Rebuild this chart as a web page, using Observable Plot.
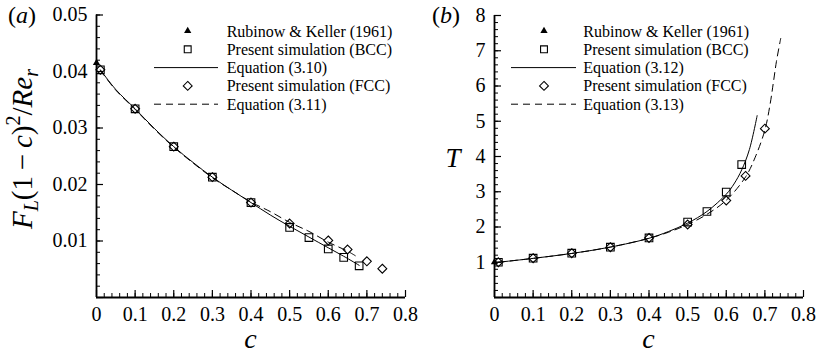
<!DOCTYPE html>
<html><head><meta charset="utf-8">
<script src="https://cdn.jsdelivr.net/npm/d3@7"></script>
<script src="https://cdn.jsdelivr.net/npm/@observablehq/plot@0.6"></script>
<style>
body{margin:0;background:#fff;}
#wrap{display:flex;width:816px;height:355px;position:relative;}
#wrap svg{overflow:visible;}
#wrap svg text{font-family:'Liberation Serif','Times New Roman',Times,serif !important;}
</style></head><body><div id="wrap"></div>
<script>
// ---------- Panel (a) data ----------
const cRK_a = [0.0];
const vRK_a = [0.0415];
const cBCC_a = [0.01, 0.1, 0.2, 0.3, 0.4, 0.5, 0.55, 0.6, 0.64, 0.68];
const vBCC_a = [0.0403, 0.0334, 0.0267, 0.0213, 0.0168, 0.0124, 0.0106, 0.0086, 0.0071, 0.0056];
const cFCC_a = [0.01, 0.1, 0.2, 0.3, 0.4, 0.5, 0.6, 0.65, 0.7, 0.74];
const vFCC_a = [0.0403, 0.0334, 0.0267, 0.0213, 0.0168, 0.0131, 0.0101, 0.0085, 0.0064, 0.0051];
const cEq310 = [0.01, 0.05, 0.1, 0.15, 0.2, 0.25, 0.3, 0.35, 0.4, 0.45, 0.5, 0.55, 0.6, 0.64, 0.68];
const vEq310 = [0.0403, 0.0368, 0.0334, 0.0299, 0.0267, 0.0239, 0.0213, 0.0190, 0.0168, 0.0146, 0.0126, 0.0107, 0.0088, 0.0073, 0.0057];
const cEq311 = [0.01, 0.05, 0.1, 0.15, 0.2, 0.25, 0.3, 0.35, 0.4, 0.45, 0.5, 0.55, 0.6, 0.65, 0.67];
const vEq311 = [0.0402, 0.0367, 0.0333, 0.0298, 0.0266, 0.0238, 0.0212, 0.0190, 0.0169, 0.0152, 0.0133, 0.0117, 0.0098, 0.0082, 0.0074];

// ---------- Panel (b) data ----------
const cRK_b = [0.0];
const vRK_b = [1.0];
const cBCC_b = [0.01, 0.1, 0.2, 0.3, 0.4, 0.5, 0.55, 0.6, 0.64];
const vBCC_b = [1.0, 1.115, 1.257, 1.427, 1.69, 2.14, 2.44, 2.99, 3.77];
const cFCC_b = [0.01, 0.1, 0.2, 0.3, 0.4, 0.5, 0.6, 0.65, 0.7];
const vFCC_b = [1.0, 1.115, 1.257, 1.427, 1.69, 2.07, 2.75, 3.45, 4.79];
const cEq312 = [0.01, 0.1, 0.2, 0.3, 0.4, 0.45, 0.5, 0.55, 0.6, 0.62, 0.64, 0.66, 0.68];
const vEq312 = [1.0, 1.11, 1.25, 1.43, 1.68, 1.87, 2.11, 2.44, 2.93, 3.22, 3.62, 4.2, 5.16];
const cEq313 = [0.01, 0.1, 0.2, 0.3, 0.4, 0.45, 0.5, 0.55, 0.6, 0.65, 0.675, 0.7, 0.713, 0.722, 0.73, 0.741];
const vEq313 = [1.0, 1.11, 1.25, 1.43, 1.68, 1.85, 2.07, 2.36, 2.76, 3.42, 3.98, 4.75, 5.45, 6.1, 6.7, 7.35];

// ---------- ticks & labels ----------
const xMajor = [0, 0.1, 0.2, 0.3, 0.4, 0.5, 0.6, 0.7, 0.8];
const xMinor = d3.range(0, 41).map(i => i * 0.02);
const yMajorA = [0, 0.01, 0.02, 0.03, 0.04, 0.05];
const yLabelsA = [0.01, 0.02, 0.03, 0.04, 0.05];
const yMinorA = d3.range(0, 26).map(i => i * 0.002);
const yMajorB = [0, 1, 2, 3, 4, 5, 6, 7, 8];
const yLabelsB = [1, 2, 3, 4, 5, 6, 7, 8];
const yMinorB = d3.range(0, 41).map(i => i * 0.2);
const legendA = ["Rubinow & Keller (1961)", "Present simulation (BCC)", "Equation (3.10)", "Present simulation (FCC)", "Equation (3.11)"];
const legendB = ["Rubinow & Keller (1961)", "Present simulation (BCC)", "Equation (3.12)", "Present simulation (FCC)", "Equation (3.13)"];
const legendKinds = ["tri", "sq", "line", "dia", "dash"];

const FONT = "Liberation Serif";
const zip = (c, v) => c.map((x, i) => ({c: x, v: v[i]}));
const R_SQ = 4.3, R_DIA = 4.0, R_TRI = 2.7;
const DASH = "7,5";
const fmtX = d => d === 0 ? "0" : d3.format(".1f")(d);

function panel(o) {
  const fw = o.W - o.mL - o.mR, fh = o.H - o.mT - o.mB;
  const svg = Plot.plot({
    width: o.W, height: o.H,
    marginLeft: o.mL, marginRight: o.mR, marginTop: o.mT, marginBottom: o.mB,
    x: {domain: [0, 0.8], axis: null},
    y: {domain: o.yDomain, axis: null},
    style: {fontFamily: FONT, fontSize: "20px", background: "transparent", color: "black", overflow: "visible"},
    marks: [
      Plot.tickX(xMinor, {insetTop: fh - 4, stroke: "black", strokeWidth: 1}),
      Plot.tickX(xMajor, {insetTop: fh - 7, stroke: "black", strokeWidth: 1.2}),
      Plot.tickY(o.yMinor, {insetRight: fw - 4, stroke: "black", strokeWidth: 1}),
      Plot.tickY(o.yMajor, {insetRight: fw - 7, stroke: "black", strokeWidth: 1.2}),
      Plot.ruleX([0], {stroke: "black", strokeWidth: 1.8}),
      Plot.ruleY([o.yDomain[0]], {stroke: "black", strokeWidth: 1.8}),
      Plot.text(xMajor, {x: d => d, text: fmtX, frameAnchor: "bottom", lineAnchor: "top", dy: 9,
        fontFamily: FONT, fontSize: 20, fill: "black"}),
      Plot.text(o.yLabels, {y: d => d, text: o.yFmt, frameAnchor: "left", textAnchor: "end", dx: -9,
        fontFamily: FONT, fontSize: 20, fill: "black"}),
      Plot.line(o.eqSolid, {x: "c", y: "v", curve: "catmull-rom", stroke: "black", strokeWidth: 1}),
      Plot.line(o.eqDash, {x: "c", y: "v", curve: "catmull-rom", stroke: "black", strokeWidth: 1, strokeDasharray: DASH}),
      Plot.dot(o.bcc, {x: "c", y: "v", symbol: "square", r: R_SQ, stroke: "black", fill: "none", strokeWidth: 1.1}),
      Plot.dot(o.fcc, {x: "c", y: "v", symbol: "diamond2", r: R_DIA, stroke: "black", fill: "none", strokeWidth: 1.1}),
      Plot.dot(o.rk, {x: "c", y: "v", symbol: "triangle", r: R_TRI, fill: "black", stroke: "none"})
    ]
  });
  const s = d3.select(svg);
  // panel label
  const pl = s.append("text").attr("x", o.panelX).attr("y", 23)
    .attr("text-anchor", "start").style("font-size", "24px");
  pl.append("tspan").text("(");
  pl.append("tspan").style("font-style", "italic").text(o.panelLetter);
  pl.append("tspan").text(")");
  // x title
  s.append("text").attr("x", (o.mL + o.W - o.mR) / 2).attr("y", 348)
    .attr("text-anchor", "middle").style("font-size", "28px").style("font-style", "italic").text("c");
  // legend
  const lg = s.append("g").attr("text-anchor", "start").style("font-size", "16px");
  o.legend.forEach((lab, i) => {
    const cy = 31 + i * 18.3;
    const kind = legendKinds[i];
    if (kind === "tri" || kind === "sq" || kind === "dia") {
      const type = kind === "tri" ? d3.symbolTriangle : kind === "sq" ? d3.symbolSquare : d3.symbolDiamond2;
      const r = kind === "tri" ? R_TRI : kind === "sq" ? R_SQ * 0.9 : R_DIA;
      lg.append("path").attr("transform", `translate(${o.legSym},${cy})`)
        .attr("d", d3.symbol(type, Math.PI * r * r)())
        .attr("fill", kind === "tri" ? "black" : "none")
        .attr("stroke", kind === "tri" ? "none" : "black").attr("stroke-width", 1.1);
    } else {
      lg.append("line").attr("x1", o.legL1).attr("x2", o.legL2).attr("y1", cy).attr("y2", cy)
        .attr("stroke", "black").attr("stroke-width", 1)
        .attr("stroke-dasharray", kind === "dash" ? DASH : null);
    }
    lg.append("text").attr("x", o.legText).attr("y", cy + 5.5).text(lab);
  });
  o.yTitle(s);
  return svg;
}

const wrap = document.getElementById("wrap");

wrap.appendChild(panel({
  W: 408, H: 355, mL: 96, mR: 3, mT: 14.5, mB: 58,
  yDomain: [0, 0.05], yMajor: yMajorA, yMinor: yMinorA, yLabels: yLabelsA,
  yFmt: d3.format(".2f"),
  eqSolid: zip(cEq310, vEq310), eqDash: zip(cEq311, vEq311),
  bcc: zip(cBCC_a, vBCC_a), fcc: zip(cFCC_a, vFCC_a), rk: zip(cRK_a, vRK_a),
  panelX: 8, panelLetter: "a",
  legend: legendA, legSym: 187.7, legText: 226.7, legL1: 154, legL2: 218,
  yTitle: s => {
    const t = s.append("text").attr("transform", "translate(32,149) rotate(-90)")
      .attr("text-anchor", "middle").style("font-size", "29px");
    t.append("tspan").style("font-style", "italic").text("F");
    t.append("tspan").style("font-style", "italic").style("font-size", "20px").attr("dy", 6).text("L");
    t.append("tspan").attr("dy", -6).text("(1\u2009\u2212\u2009");
    t.append("tspan").style("font-style", "italic").text("c");
    t.append("tspan").text(")");
    t.append("tspan").style("font-size", "20px").attr("dy", -12).text("2");
    t.append("tspan").attr("dy", 12).text("/");
    t.append("tspan").style("font-style", "italic").text("Re");
    t.append("tspan").style("font-style", "italic").style("font-size", "20px").attr("dy", 6).text("r");
  }
}));

wrap.appendChild(panel({
  W: 408, H: 355, mL: 86, mR: 13, mT: 15, mB: 58,
  yDomain: [0, 8], yMajor: yMajorB, yMinor: yMinorB, yLabels: yLabelsB,
  yFmt: d3.format("d"),
  eqSolid: zip(cEq312, vEq312), eqDash: zip(cEq313, vEq313),
  bcc: zip(cBCC_b, vBCC_b), fcc: zip(cFCC_b, vFCC_b), rk: zip(cRK_b, vRK_b),
  panelX: 24, panelLetter: "b",
  legend: legendB, legSym: 136, legText: 175.3, legL1: 103, legL2: 168,
  yTitle: s => {
    s.append("text").attr("x", 45).attr("y", 166.5).attr("text-anchor", "middle")
      .style("font-size", "27px").style("font-style", "italic").text("T");
  }
}));
</script></body></html>
